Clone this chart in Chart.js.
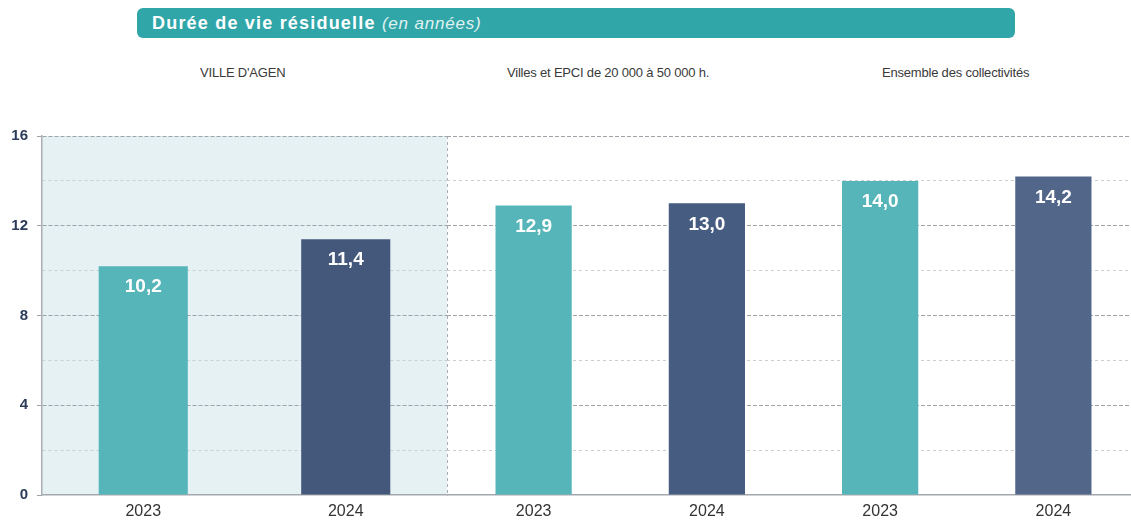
<!DOCTYPE html>
<html lang="fr">
<head>
<meta charset="utf-8">
<script src="https://cdn.jsdelivr.net/npm/chart.js@4/dist/chart.umd.min.js"></script>
<style>
body { margin: 0; background: #fff; font-family: "Liberation Sans", Arial, sans-serif; }
#page { position: relative; width: 1131px; height: 523px; overflow: hidden; }
#titre { position: absolute; left: 137px; top: 8px; width: 878px; height: 30px; border-radius: 6px;
  background: #31a6a9; color: #fff; font-weight: bold; font-size: 18px; line-height: 30px;
  padding-left: 15px; box-sizing: border-box; letter-spacing: 1.2px; }
#titre i { font-weight: normal; font-size: 17px; color: #e0f2f2; letter-spacing: 0.8px; }
.groupe { position: absolute; top: 65px; font-size: 13px; color: #3a3a3a; white-space: nowrap; letter-spacing: -0.2px; }
#chartLeft { position: absolute; left: 0; top: 0; }
#chartRight { position: absolute; left: 447px; top: 0; }
</style>
</head>
<body>
<div id="page">
  <div id="titre">Durée de vie résiduelle <i>(en années)</i></div>
  <div class="groupe" id="g0" style="left:200px"></div>
  <div class="groupe" id="g1" style="left:507px"></div>
  <div class="groupe" id="g2" style="left:882px"></div>
  <canvas id="chartLeft" width="449" height="523"></canvas>
  <canvas id="chartRight" width="693" height="523"></canvas>
</div>
<script>
// données
var groupes = ["VILLE D'AGEN", "Villes et EPCI de 20 000 à 50 000 h.", "Ensemble des collectivités"];
var annees_agen = ['2023', '2024'];
var valeurs_agen = [10.2, 11.4];
var annees_autres = ['2023', '2024', '2023', '2024'];
var valeurs_autres = [12.9, 13.0, 14.0, 14.2];
var yTicks = [0, 4, 8, 12, 16];

// couleurs
var couleurs_agen = ['#56b5b9', '#44587b'];
var couleurs_autres = ['#56b5b9', '#465c80', '#56b5b9', '#526689'];

var FONT = '"Liberation Sans", Arial, sans-serif';

for (var i = 0; i < groupes.length; i++) {
    document.getElementById('g' + i).textContent = groupes[i];
}

// valeurs en blanc dans les barres
var valueLabels = {
    id: 'valueLabels',
    afterDatasetsDraw: function(chart) {
        var ctx = chart.ctx;
        var meta = chart.getDatasetMeta(0);
        ctx.save();
        ctx.fillStyle = '#ffffff';
        ctx.font = 'bold 19px ' + FONT;
        ctx.textAlign = 'center';
        ctx.textBaseline = 'middle';
        meta.data.forEach(function(bar, i) {
            var v = chart.data.datasets[0].data[i];
            ctx.fillText(v.toFixed(1).replace('.', ','), bar.x, bar.y + 21);
        });
        ctx.restore();
    }
};

// fond de la zone Agen + séparateur pointillé
var zoneAgen = {
    id: 'zoneAgen',
    beforeDraw: function(chart) {
        var a = chart.chartArea;
        var ctx = chart.ctx;
        ctx.save();
        ctx.fillStyle = '#e5f1f2';
        ctx.fillRect(a.left, a.top, a.right - a.left, a.bottom - a.top);
        ctx.strokeStyle = '#a8adb3';
        ctx.lineWidth = 1;
        ctx.setLineDash([3, 3]);
        ctx.beginPath();
        ctx.moveTo(a.right + 0.5, a.top);
        ctx.lineTo(a.right + 0.5, a.bottom);
        ctx.stroke();
        ctx.restore();
    }
};

function isMajor(v) {
    return yTicks.indexOf(v) >= 0;
}

function makeOptions(showY, padRight) {
    return {
        responsive: false,
        animation: false,
        layout: { padding: { top: 136, bottom: 2, left: 0, right: padRight } },
        plugins: { legend: { display: false }, tooltip: { enabled: false } },
        scales: {
            x: {
                afterFit: function(s) { s.height = 26; },
                grid: { display: false, drawTicks: false },
                border: { display: true, color: '#a3a8ae', width: 1.5 },
                ticks: { color: '#333333', padding: 7, font: { family: FONT, size: 16 } }
            },
            y: {
                min: 0,
                max: 16,
                afterFit: function(s) { s.width = showY ? 42 : 0; },
                ticks: {
                    display: showY,
                    stepSize: 2,
                    padding: 9,
                    color: '#2c3b58',
                    font: { family: FONT, size: 15, weight: 'bold' },
                    callback: function(v) { return isMajor(v) ? v : ''; }
                },
                grid: {
                    drawTicks: showY,
                    tickLength: 5,
                    lineWidth: 1,
                    color: function(c) {
                        if (!c.tick || c.tick.value === 0) return 'rgba(0,0,0,0)';
                        return isMajor(c.tick.value) ? '#9ea3aa' : '#c9ced3';
                    },
                    tickColor: function(c) {
                        return (c.tick && isMajor(c.tick.value)) ? '#9ea3aa' : 'rgba(0,0,0,0)';
                    }
                },
                border: {
                    display: showY,
                    color: '#a9aeb4',
                    width: 1.5,
                    dash: function(c) {
                        if (c.type !== 'tick') return [];
                        return isMajor(c.tick.value) ? [4, 2] : [3, 3];
                    }
                }
            }
        }
    };
}

function drawChart(id, labels, values, colors, showY, padRight, extra) {
    var ctx = document.getElementById(id).getContext('2d');
    return new Chart(ctx, {
        type: 'bar',
        data: {
            labels: labels,
            datasets: [{
                data: values,
                backgroundColor: colors,
                borderWidth: 0,
                barPercentage: 0.44,
                categoryPercentage: 1
            }]
        },
        options: makeOptions(showY, padRight),
        plugins: extra
    });
}

drawChart('chartLeft', annees_agen, valeurs_agen, couleurs_agen, true, 2, [zoneAgen, valueLabels]);
drawChart('chartRight', annees_autres, valeurs_autres, couleurs_autres, false, 0, [valueLabels]);
</script>
</body>
</html>
